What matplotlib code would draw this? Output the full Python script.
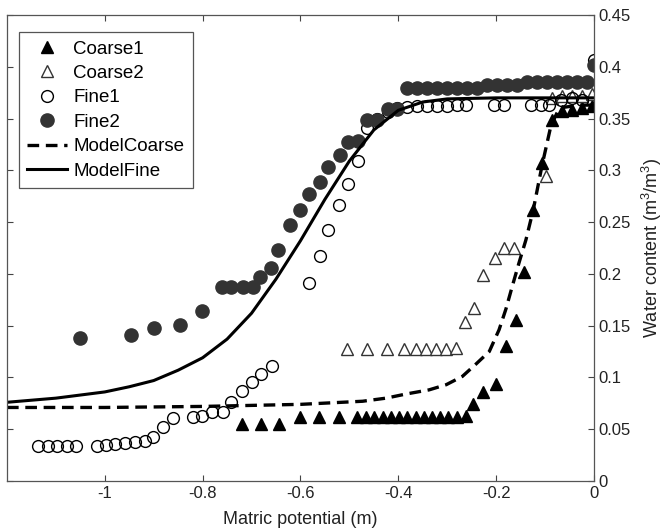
import matplotlib
matplotlib.use('Agg')
import matplotlib.pyplot as plt

plt.rcParams['font.family'] = ['Liberation Sans', 'DejaVu Sans']
plt.rcParams['mathtext.fontset'] = 'custom'
plt.rcParams['mathtext.rm'] = 'Liberation Sans'
plt.rcParams['axes.unicode_minus'] = False

# measured data (matric potential in m, water content in m3/m3)
coarse1_x = [-0.720, -0.680, -0.643, -0.600, -0.563, -0.522, -0.484, -0.465, -0.449, -0.431,
             -0.414, -0.398, -0.382, -0.363, -0.347, -0.331, -0.314, -0.298, -0.280, -0.261,
             -0.247, -0.227, -0.200, -0.180, -0.159, -0.143, -0.124, -0.106, -0.086, -0.065,
             -0.045, -0.024, -0.004]
coarse1_y = [0.055, 0.055, 0.055, 0.062, 0.062, 0.062, 0.062, 0.062, 0.062, 0.062,
             0.062, 0.062, 0.062, 0.062, 0.062, 0.062, 0.062, 0.062, 0.062, 0.063,
             0.074, 0.086, 0.094, 0.130, 0.155, 0.202, 0.262, 0.307, 0.349, 0.357,
             0.358, 0.360, 0.362]

coarse2_x = [-0.504, -0.463, -0.424, -0.388, -0.363, -0.343, -0.322, -0.302, -0.282, -0.263,
             -0.245, -0.227, -0.202, -0.184, -0.163, -0.098, -0.086, -0.065, -0.045, -0.024,
             -0.004]
coarse2_y = [0.127, 0.127, 0.127, 0.127, 0.127, 0.127, 0.127, 0.127, 0.128, 0.154,
             0.167, 0.199, 0.215, 0.225, 0.225, 0.295, 0.370, 0.372, 0.372, 0.372,
             0.374]

fine1_x = [-1.137, -1.116, -1.098, -1.078, -1.059, -1.016, -0.998, -0.980, -0.959, -0.939,
           -0.918, -0.902, -0.882, -0.861, -0.820, -0.802, -0.780, -0.759, -0.743, -0.720,
           -0.700, -0.680, -0.659, -0.582, -0.561, -0.543, -0.522, -0.502, -0.482, -0.463,
           -0.443, -0.422, -0.402, -0.382, -0.361, -0.341, -0.320, -0.300, -0.280, -0.261,
           -0.204, -0.184, -0.129, -0.108, -0.092, -0.067, -0.045, -0.025, 0.0]
fine1_y = [0.034, 0.034, 0.034, 0.034, 0.034, 0.034, 0.035, 0.036, 0.037, 0.038,
           0.039, 0.042, 0.052, 0.061, 0.062, 0.063, 0.067, 0.067, 0.076, 0.087,
           0.096, 0.103, 0.111, 0.191, 0.217, 0.242, 0.267, 0.287, 0.309, 0.341,
           0.350, 0.356, 0.360, 0.361, 0.362, 0.362, 0.362, 0.362, 0.363, 0.363,
           0.363, 0.363, 0.363, 0.363, 0.363, 0.368, 0.370, 0.368, 0.407]

fine2_x = [-1.051, -0.947, -0.900, -0.847, -0.802, -0.761, -0.741, -0.718, -0.698, -0.682,
           -0.661, -0.645, -0.622, -0.600, -0.582, -0.561, -0.543, -0.520, -0.502, -0.482,
           -0.463, -0.443, -0.422, -0.402, -0.382, -0.361, -0.341, -0.320, -0.300, -0.280,
           -0.259, -0.239, -0.218, -0.198, -0.178, -0.157, -0.137, -0.116, -0.096, -0.076,
           -0.055, -0.035, -0.014, 0.0]
fine2_y = [0.138, 0.141, 0.148, 0.151, 0.164, 0.187, 0.187, 0.187, 0.187, 0.197,
           0.206, 0.223, 0.247, 0.262, 0.277, 0.289, 0.303, 0.315, 0.327, 0.328,
           0.349, 0.349, 0.359, 0.359, 0.380, 0.380, 0.380, 0.380, 0.380, 0.380,
           0.380, 0.380, 0.382, 0.382, 0.382, 0.382, 0.385, 0.385, 0.385, 0.385,
           0.385, 0.385, 0.385, 0.402]

# fitted curves
mcoarse_x = [-1.2, -1.0, -0.8, -0.6, -0.473, -0.425, -0.384, -0.337, -0.302, -0.269,
             -0.241, -0.214, -0.194, -0.180, -0.167, -0.153, -0.139, -0.124, -0.106, -0.088,
             -0.075, -0.060, -0.030, 0.0]
mcoarse_y = [0.071, 0.071, 0.072, 0.074, 0.077, 0.080, 0.084, 0.088, 0.093, 0.101,
             0.113, 0.125, 0.146, 0.166, 0.188, 0.211, 0.233, 0.262, 0.305, 0.343,
             0.356, 0.361, 0.363, 0.363]

mfine_x = [-1.2, -1.1, -1.0, -0.95, -0.9, -0.85, -0.8, -0.75, -0.7, -0.65,
           -0.6, -0.55, -0.5, -0.45, -0.4, -0.35, -0.3, -0.2, -0.1, 0.0]
mfine_y = [0.076, 0.080, 0.086, 0.091, 0.097, 0.107, 0.119, 0.137, 0.162, 0.195,
           0.232, 0.272, 0.309, 0.339, 0.358, 0.366, 0.369, 0.370, 0.370, 0.370]

xticks = [-1, -0.8, -0.6, -0.4, -0.2, 0]
xticklabels = ['-1', '-0.8', '-0.6', '-0.4', '-0.2', '0']
yticks = [0, 0.05, 0.1, 0.15, 0.2, 0.25, 0.3, 0.35, 0.4, 0.45]
yticklabels = ['0', '0.05', '0.1', '0.15', '0.2', '0.25', '0.3', '0.35', '0.4', '0.45']

fig = plt.figure(figsize=(6.64, 5.31), dpi=100)
ax = fig.add_axes([0.0105, 0.0942, 0.884, 0.8775])

ax.plot(coarse1_x, coarse1_y, '^', ms=8.5, color='black', label='Coarse1')
ax.plot(coarse2_x, coarse2_y, '^', ms=8.5, mfc='white', mec='#333333', mew=1.0, label='Coarse2')
ax.plot(fine1_x, fine1_y, 'o', ms=8.5, mfc='none', mec='black', mew=1.0, label='Fine1')
ax.plot(fine2_x, fine2_y, 'o', ms=9.5, color='#333333', label='Fine2')
ax.plot(mcoarse_x, mcoarse_y, '--', lw=2.4, color='black', dashes=(3.5, 2), label='ModelCoarse')
ax.plot(mfine_x, mfine_y, '-', lw=2.2, color='black', label='ModelFine')

ax.set_xlim(-1.2, 0)
ax.set_ylim(0, 0.45)
ax.set_xticks(xticks)
ax.set_xticklabels(xticklabels)
ax.set_yticks(yticks)
ax.set_yticklabels(yticklabels)
ax.yaxis.tick_right()
ax.yaxis.set_label_position('right')
ax.tick_params(direction='in', length=4, width=0.8, colors='#444444',
               labelcolor='#222222', labelsize=12, top=True, bottom=True,
               left=True, right=True, labelleft=False, labelright=True)
for s in ax.spines.values():
    s.set_color('#555555')
    s.set_linewidth(0.9)

ax.set_xlabel('Matric potential (m)', fontsize=13, color='#222222', labelpad=7)
ax.set_ylabel('Water content (m$^3$/m$^3$)', fontsize=13, color='#222222', labelpad=6)

leg = ax.legend(loc='upper left', bbox_to_anchor=(0.0204, 0.9635), borderaxespad=0,
                fontsize=13.5, fancybox=False, edgecolor='#555555', framealpha=1,
                handlelength=2.1, handletextpad=0.35, labelspacing=0.39, borderpad=0.45,
                numpoints=1)
leg.get_frame().set_linewidth(0.9)

fig.savefig('out.png', dpi=100)
